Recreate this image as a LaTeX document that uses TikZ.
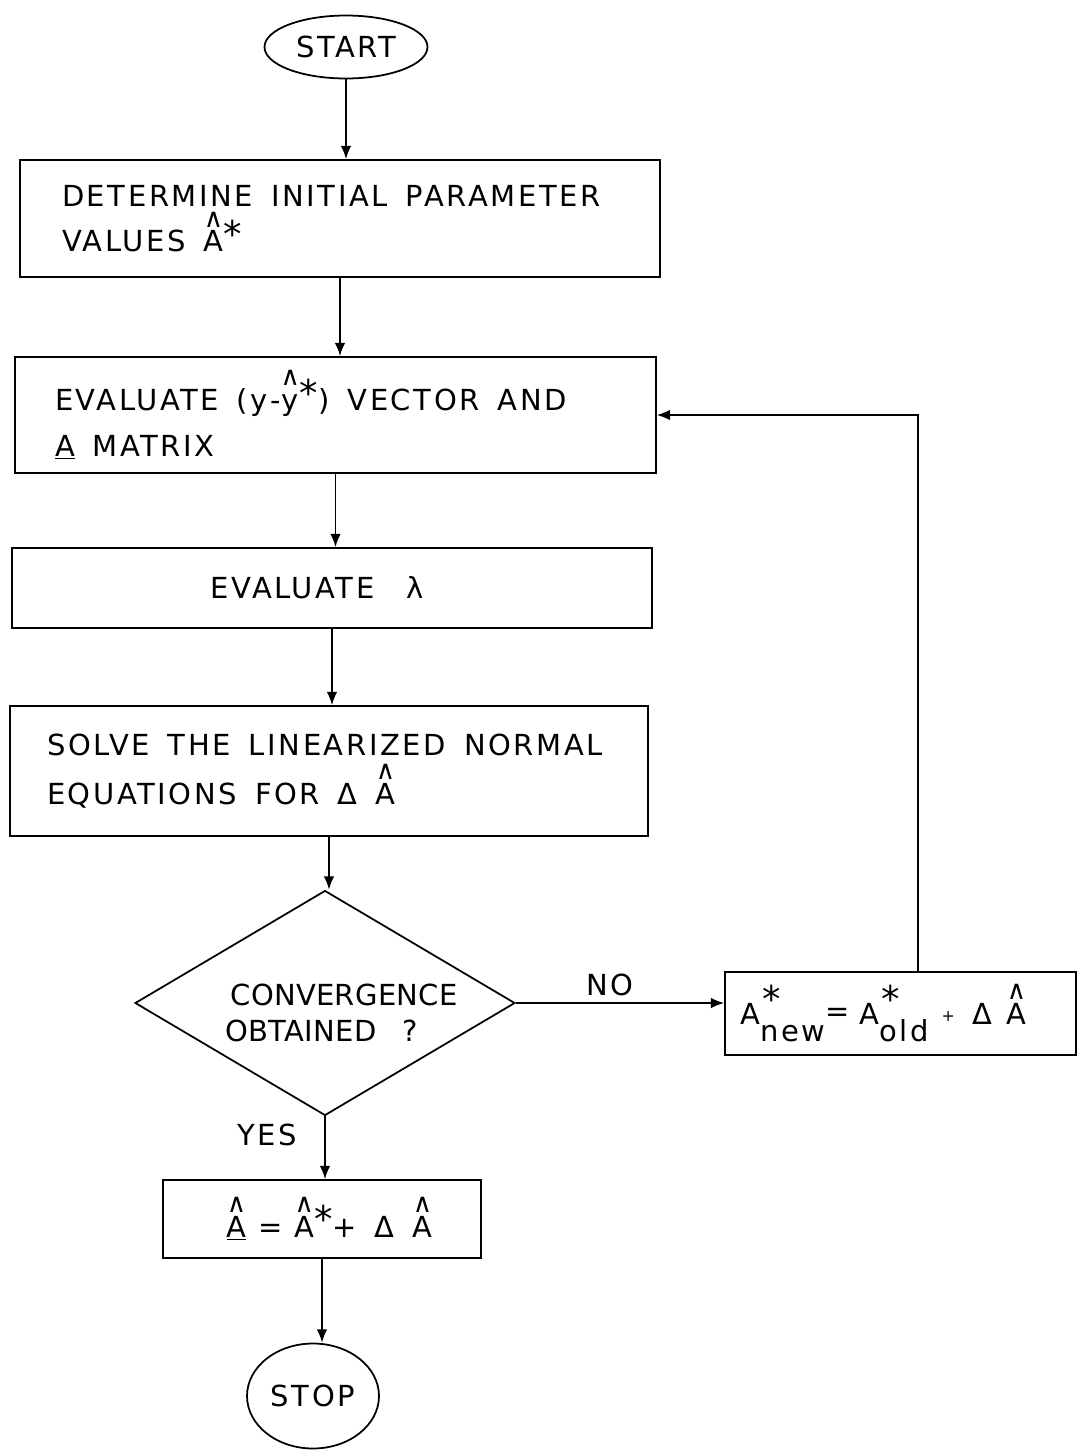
\documentclass[tikz,border=0pt]{standalone}
\usepackage{fontspec}
\setmainfont{DejaVu Sans}[LetterSpace=9]
\newfontfamily\tightfont{DejaVu Sans}[LetterSpace=1]
\usetikzlibrary{shapes.geometric,arrows.meta}
\newcommand\ws{\hspace{0.62em}}
\newcommand\hatover[1]{\leavevmode\vbox{\offinterlineskip\halign{\hfil##\hfil\cr{\fontsize{15}{15}\selectfont ∧}\cr\noalign{\kern2pt}#1\cr}}}
\newcommand\astr{\raisebox{0.15em}{\fontsize{21}{21}\selectfont *}}
\newcommand\supsub[3]{#1\rlap{\kern1pt\raisebox{0.4em}{\fontsize{21}{21}\selectfont #2}}\raisebox{-0.6em}{#3}}
\begin{document}
\begin{tikzpicture}[x=0.02cm,y=-0.02cm,
  every node/.style={font=\fontsize{16.5}{26}\selectfont},
  box/.style={draw,line width=1pt,rectangle,inner ysep=0pt},
  lbox/.style={box,align=left},
  term/.style={draw,line width=1pt,ellipse,inner sep=0pt},
  decide/.style={draw,line width=1pt,diamond,inner sep=0pt,aspect=1.69},
  arr/.style={line width=1pt,-{Latex[length=7.5pt,width=6pt]}}]
\useasboundingbox (0,0) rectangle (1078,1450);
\node[term,minimum width=3.26cm,minimum height=1.26cm] (start) at (346,47) {START};
\node[lbox,minimum width=12.8cm,minimum height=2.34cm,inner xsep=0.84cm,text width=11.12cm] (b1) at (340,218.5)
  {DETERMINE\ws INITIAL\ws PARAMETER\\VALUES\ws\hatover{A}\astr};
\node[lbox,minimum width=12.82cm,minimum height=2.32cm,inner xsep=0.8cm,text width=11.22cm] (b2) at (335.5,415)
  {EVALUATE\ws(y-\hatover{y\vphantom{A}}\astr)\ws VECTOR\ws AND\\\underline{A}\ws MATRIX};
\node[box,minimum width=12.8cm,minimum height=1.6cm] (b3) at (332,588) {\hspace*{-0.6cm}EVALUATE\hspace{1.1em}λ};
\node[lbox,minimum width=12.76cm,minimum height=2.6cm,inner xsep=0.74cm,text width=11.28cm] (b4) at (329,771)
  {SOLVE\ws THE\ws LINEARIZED\ws NORMAL\\[2pt]EQUATIONS\ws FOR\ws Δ\ws\hatover{A}};
\node[decide,minimum width=7.6cm,minimum height=4.5cm] (d) at (325,1003) {};
\node[align=left,font=\fontsize{16.5}{26}\tightfont] (dtext) at (344,1013) {CONVERGENCE\\[-6pt]\hspace*{-0.1cm}OBTAINED\hspace{0.9em}?};
\node[box,minimum width=7.02cm,minimum height=1.66cm,align=left,text width=6.4cm,inner xsep=0.31cm] (b5) at (900.5,1013.5)
  {\supsub{A}{*}{new}\raisebox{0.1em}{=} \supsub{A}{*}{old}\hspace{0.45em}\raisebox{0.1em}{\small +}\hspace{0.6em}Δ\hspace{0.5em}\hatover{A}};
\node[box,minimum width=6.36cm,minimum height=1.56cm] (b6) at (322,1219)
  {\hspace*{0.3cm}\underline{\hatover{A}} = \hatover{A}\astr+\ws Δ\ws\hatover{A}};
\node[term,minimum width=2.64cm,minimum height=2.1cm] (stop) at (313,1396) {STOP};
\node (no) at (610,985) {NO};
\node (yes) at (267,1135) {YES};
\coordinate (fb) at (918,415);
\draw[arr] (start.south) -- (start.south |- b1.north);
\draw[arr] (b1.south) -- (b1.south |- b2.north);
\draw[arr] (b2.south) -- (b2.south |- b3.north);
\draw[arr] (b3.south) -- (b3.south |- b4.north);
\draw[arr] (b4.south) -- (b4.south |- d.north);
\draw[arr] (d.east) -- (d.east -| b5.west);
\draw[arr] (b5.north -| fb) |- (b2.east);
\draw[arr] (d.south) -- (d.south |- b6.north);
\draw[arr] (b6.south) -- (b6.south |- stop.north);
\end{tikzpicture}
\end{document}
